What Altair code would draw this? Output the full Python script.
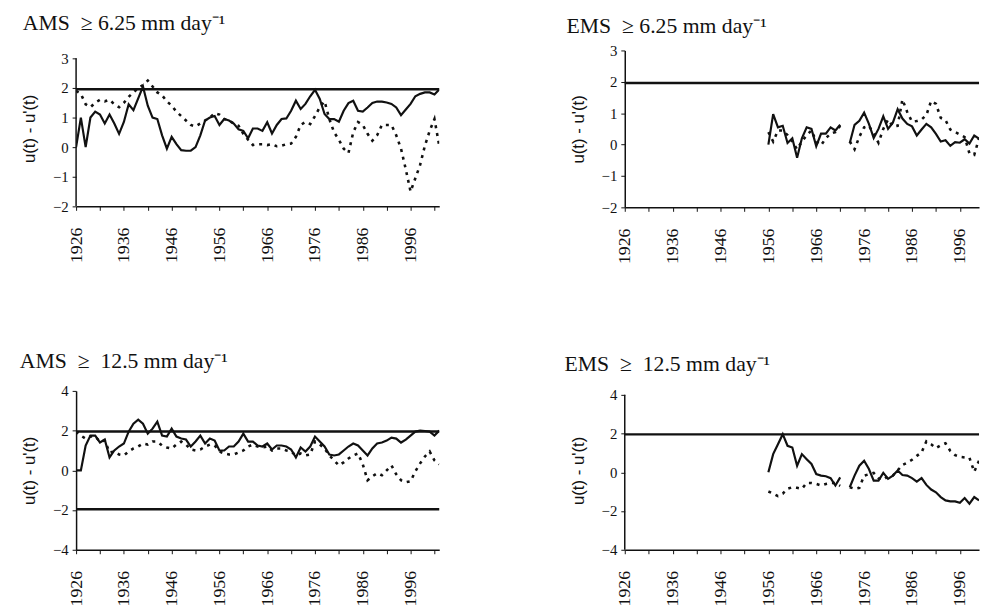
import altair as alt
import pandas as pd

# ---------------- data ----------------
years_ams = list(range(1926, 2003))

ams625_u = [0.0, 1.0, 0.0, 1.0, 1.2, 1.1, 0.8, 1.1, 0.8, 0.45,
            0.85, 1.45, 1.25, 1.65, 2.05, 1.4, 1.0, 0.95, 0.4, -0.05,
            0.35, 0.1, -0.1, -0.12, -0.12, 0.0, 0.4, 0.9, 1.0, 1.05,
            0.75, 0.95, 0.9, 0.8, 0.6, 0.55, 0.3, 0.63, 0.63, 0.55,
            0.84, 0.46, 0.75, 0.95, 0.97, 1.23, 1.57, 1.29, 1.46, 1.72,
            1.94, 1.63, 1.12, 0.95, 0.95, 0.86, 1.23, 1.49, 1.57, 1.23,
            1.2, 1.34, 1.49, 1.54, 1.54, 1.51, 1.46, 1.34, 1.08, 1.27,
            1.46, 1.72, 1.8, 1.85, 1.85, 1.78, 1.95]
ams625_up = [1.9, 1.8, 1.45, 1.35, 1.5, 1.6, 1.55, 1.6, 1.45, 1.35,
             1.5, 1.7, 1.85, 2.0, 2.1, 2.25, 2.05, 1.85, 1.75, 1.55,
             1.4, 1.2, 1.05, 0.9, 0.75, 0.7, 0.8, 0.9, 1.0, 1.15,
             1.1, 0.95, 0.9, 0.8, 0.72, 0.45, 0.25, 0.07, 0.1, 0.1,
             0.07, 0.1, 0.03, 0.05, 0.1, 0.12, 0.35, 0.75, 0.85, 0.78,
             1.05, 1.35, 1.55, 0.95, 0.5, 0.25, -0.05, -0.2, 0.5, 0.85,
             0.75, 0.45, 0.22, 0.4, 0.75, 0.75, 0.75, 0.4, -0.05, -0.75,
             -1.5, -1.05, -0.6, 0.05, 0.55, 0.95, 0.05]
ams125_u = [0.0, 0.0, 1.25, 1.75, 1.75, 1.4, 1.55, 0.65, 1.0, 1.2,
            1.35, 1.95, 2.35, 2.55, 2.35, 1.85, 2.1, 2.45, 1.75, 1.7,
            2.1, 1.7, 1.6, 1.55, 1.2, 1.45, 1.75, 1.35, 1.6, 1.5,
            1.0, 1.0, 1.2, 1.2, 1.45, 1.85, 1.45, 1.45, 1.25, 1.2,
            1.35, 1.05, 1.25, 1.25, 1.2, 1.05, 0.65, 1.15, 0.95, 1.2,
            1.7, 1.45, 1.2, 0.8, 0.75, 0.8, 1.0, 1.2, 1.35, 1.25,
            1.0, 0.75, 1.1, 1.35, 1.4, 1.5, 1.65, 1.6, 1.4, 1.55,
            1.75, 1.95, 2.0, 1.98, 1.95, 1.75, 2.0]
ams125_up = [1.95, 1.75, 1.6, 1.7, 1.7, 1.45, 1.5, 0.9, 0.95, 0.8,
             0.75, 0.95, 1.1, 1.2, 1.35, 1.3, 1.45, 1.45, 1.25, 1.15,
             1.1, 1.3, 1.45, 1.3, 1.05, 1.0, 1.05, 1.2, 1.3, 1.25,
             0.95, 0.85, 0.8, 0.8, 0.9, 1.0, 1.2, 1.3, 1.2, 1.15,
             1.2, 1.0, 1.1, 1.1, 1.0, 0.95, 0.75, 0.85, 0.75, 0.8,
             1.45, 1.3, 1.1, 0.75, 0.5, 0.25, 0.4, 0.6, 0.75, 0.85,
             0.3, -0.5, -0.3, -0.15, -0.25, 0.0, 0.25, -0.2, -0.5, -0.6,
             -0.55, -0.05, 0.35, 0.7, 0.95, 0.5, 0.3]

years_ems_a = list(range(1956, 1972))
years_ems_b = list(range(1973, 2001))

ems625_u_a = [0.0, 0.97, 0.55, 0.6, 0.05, 0.2, -0.42, 0.2, 0.55, 0.5,
              -0.05, 0.35, 0.35, 0.55, 0.45, 0.63]
ems625_u_b = [0.05, 0.63, 0.76, 1.02, 0.66, 0.21, 0.5, 0.9, 0.5, 0.7,
              1.13, 0.83, 0.66, 0.58, 0.29, 0.48, 0.66, 0.55, 0.34, 0.1,
              0.14, -0.04, 0.08, 0.06, 0.17, 0.03, 0.29, 0.19]
ems625_up_a = [0.4, 0.1, 0.45, 0.45, 0.3, 0.1, -0.15, 0.1, 0.3, 0.45,
               0.1, -0.02, 0.2, 0.35, 0.4, 0.6]
ems625_up_b = [0.1, -0.15, 0.25, 0.55, 0.6, 0.35, 0.06, 0.5, 0.8, 0.58,
               0.6, 1.44, 1.04, 0.73, 0.75, 0.8, 0.94, 1.39, 1.3, 0.85,
               0.78, 0.48, 0.4, 0.32, 0.24, -0.28, -0.33, 0.2]
ems125_u_a = [0.0, 0.94, 1.45, 1.97, 1.37, 1.28, 0.34, 0.94, 0.68, 0.43,
              -0.09, -0.17, -0.2, -0.3, -0.68, -0.26]
ems125_u_b = [-0.77, -0.17, 0.34, 0.6, 0.17, -0.43, -0.43, -0.03, -0.34, -0.17,
              0.09, -0.14, -0.17, -0.3, -0.48, -0.3, -0.65, -0.89, -1.03, -1.28,
              -1.45, -1.5, -1.5, -1.57, -1.33, -1.62, -1.28, -1.45]
ems125_up_a = [-0.99, -1.1, -1.23, -1.1, -0.85, -0.77, -0.8, -0.85, -0.55, -0.55,
               -0.6, -0.68, -0.6, -0.55, -0.55, -0.7]
ems125_up_b = [-0.77, -0.85, -0.8, -0.17, -0.1, -0.03, -0.3, -0.38, -0.2, -0.17,
               0.1, 0.38, 0.5, 0.65, 0.85, 1.03, 1.6, 1.45, 1.25, 1.4,
               1.5, 1.1, 0.89, 0.8, 0.77, 0.75, 0.03, 0.6]

crit_upper = [1.96]
crit_both = [1.96, -1.96]

titles = ["AMS\u00a0\u00a0\u2265\u00a06.25 mm day\u207b\u00b9",
          "EMS\u00a0\u00a0\u2265\u00a06.25 mm day\u207b\u00b9",
          "AMS\u00a0\u00a0\u2265\u00a0\u00a012.5 mm day\u207b\u00b9",
          "EMS\u00a0\u00a0\u2265\u00a0\u00a012.5 mm day\u207b\u00b9"]
y_title = "u(t) - u'(t)"

SERIF = "Liberation Serif"
SANS = "Liberation Sans"
INK = "#111111"


def frame(segments):
    rows = []
    for seg_id, (yrs, u, up) in enumerate(segments):
        for y, a, b in zip(yrs, u, up):
            rows.append({"year": y, "value": a, "series": "u", "seg": seg_id})
            rows.append({"year": y, "value": b, "series": "up", "seg": seg_id})
    return pd.DataFrame(rows)


def panel(df, crit, title, xmax, ydom, yvals, w, h, tdx, toff, axis_top=None):
    xs = alt.Scale(domain=[1926, xmax], nice=False, zero=False)
    ys = alt.Scale(domain=ydom, nice=False, zero=False)
    xaxis = alt.Axis(values=list(range(1926, xmax + 1, 5)),
                     labelExpr="(datum.value - 1926) % 10 == 0 ? '' + datum.value : ''",
                     labelAngle=-90, labelFont=SERIF, labelFontSize=18,
                     labelColor=INK, labelPadding=17, labelOverlap=False,
                     labelFlush=False, tickSize=4, tickColor=INK, tickWidth=1,
                     domainColor=INK, domainWidth=1.5, grid=False, title=None)
    yaxis = alt.Axis(values=yvals, labelFont=SERIF, labelFontSize=15,
                     labelColor=INK, labelPadding=4, tickSize=4, tickColor=INK,
                     tickWidth=1, domain=axis_top is None, domainColor=INK,
                     domainWidth=1.5, grid=False, labelOverlap=False,
                     title=y_title, titleFont=SANS, titleFontSize=17,
                     titleFontWeight="normal", titleColor=INK, titlePadding=14,
                     labelFlush=False)
    X = alt.X("year:Q", scale=xs, axis=xaxis)
    base = alt.Chart(df)
    solid = base.transform_filter(alt.datum.series == "u").mark_line(
        color=INK, strokeWidth=2.2, clip=True).encode(
        x=X, y=alt.Y("value:Q", scale=ys, axis=yaxis), detail="seg:N")
    dotted = base.transform_filter(alt.datum.series == "up").mark_line(
        color=INK, strokeWidth=2.6, strokeDash=[3, 5], clip=True).encode(
        x=X, y=alt.Y("value:Q", scale=ys, axis=yaxis), detail="seg:N")
    rule = alt.Chart(pd.DataFrame({"c": crit})).mark_rule(
        color=INK, strokeWidth=2.5).encode(y=alt.Y("c:Q", scale=ys, axis=yaxis))
    layers = [rule, solid, dotted]
    if axis_top is not None:
        ax = alt.Chart(pd.DataFrame({"x": [1926], "y0": [ydom[0]], "y1": [axis_top]})).mark_rule(
            color=INK, strokeWidth=1.5).encode(
            x=alt.X("x:Q", scale=xs, axis=xaxis),
            y=alt.Y("y0:Q", scale=ys, axis=yaxis), y2="y1:Q")
        layers.append(ax)
    return alt.layer(*layers).properties(
        width=w, height=h,
        title=alt.TitleParams(text=title, anchor="start", frame="group",
                              dx=tdx, offset=toff, font=SERIF, fontSize=22,
                              fontWeight="normal", color=INK))


df_tl = frame([(years_ams, ams625_u, ams625_up)])
df_bl = frame([(years_ams, ams125_u, ams125_up)])
df_tr = frame([(years_ems_a, ems625_u_a, ems625_up_a),
               (years_ems_b, ems625_u_b, ems625_up_b)])
df_br = frame([(years_ems_a, ems125_u_a, ems125_up_a),
               (years_ems_b, ems125_u_b, ems125_up_b)])

tl = panel(df_tl, crit_upper, titles[0], 2002, [-2, 3.267], [-2, -1, 0, 1, 2, 3], 368, 158, -54, 16, axis_top=3)
tr = panel(df_tr, crit_upper, titles[1], 2000, [-2, 3], [-2, -1, 0, 1, 2, 3], 359, 159, -59, 6)
bl = panel(df_bl, crit_both, titles[2], 2002, [-4, 4], [-4, -2, 0, 2, 4], 368, 161, -57, 11)
br = panel(df_br, crit_upper, titles[3], 2000, [-4, 4.204], [-4, -2, 0, 2, 4], 359, 161, -61, 12, axis_top=4)

chart = alt.concat(tl, tr, bl, br, columns=2,
                   spacing={"row": 186, "column": 188},
                   bounds="flush").configure_view(stroke=None).properties(
    background="white",
    padding={"left": 12, "top": 0, "right": 0, "bottom": 0})

chart.save("out.html", embed_options={"renderer": "svg", "actions": False})
